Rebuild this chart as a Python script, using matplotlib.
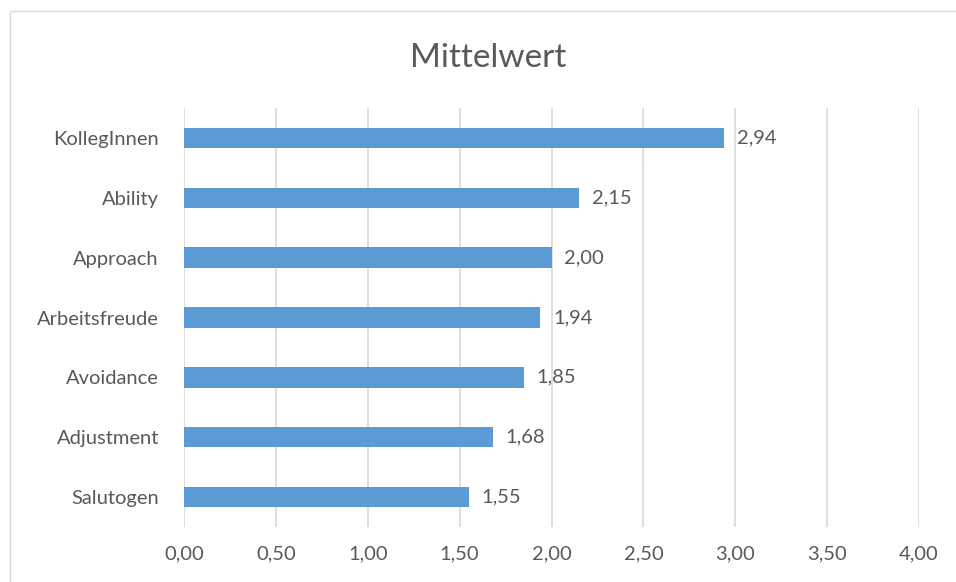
import matplotlib.pyplot as plt
from matplotlib.patches import Rectangle

categories = ["KollegInnen", "Ability", "Approach", "Arbeitsfreude",
              "Avoidance", "Adjustment", "Salutogen"]
values = [2.94, 2.15, 2.00, 1.94, 1.85, 1.68, 1.55]
xticks = [0.0, 0.5, 1.0, 1.5, 2.0, 2.5, 3.0, 3.5, 4.0]

plt.rcParams['font.family'] = ['Lato', 'DejaVu Sans']
grey = '#595959'

fig = plt.figure(figsize=(9.56, 5.82), dpi=100)
ax = fig.add_axes([0.1925, 0.0945, 0.7688, 0.7199])

# chart border (top and left visible)
fig.add_artist(Rectangle((10 / 956, -0.01), 1.0, 1 - 11 / 582 + 0.01,
                         transform=fig.transFigure, fill=False,
                         edgecolor='#D9D9D9', lw=1))

pos = list(range(len(categories)))[::-1]
ax.barh(pos, values, height=0.34, color='#5B9BD5', zorder=2)
for p, v in zip(pos, values):
    ax.text(v + 0.07, p, f"{v:.2f}".replace('.', ','), va='center', ha='left',
            fontsize=14.5, color=grey)

ax.set_xlim(0, 4)
ax.set_ylim(-0.5, 6.5)
ax.set_xticks(xticks)
ax.set_xticklabels([f"{t:.2f}".replace('.', ',') for t in xticks])
ax.set_yticks(pos)
ax.set_yticklabels(categories)
ax.tick_params(axis='both', length=0, labelsize=14.5, colors=grey)
ax.tick_params(axis='x', pad=13)
ax.tick_params(axis='y', pad=18)
ax.grid(axis='x', color='#D9D9D9', lw=1.2, zorder=0)
for s in ax.spines.values():
    s.set_visible(False)

fig.text(488 / 956, 1 - 58 / 582, "Mittelwert", ha='center', va='center',
         fontsize=24, color=grey)

fig.savefig('out.png', dpi=100)
